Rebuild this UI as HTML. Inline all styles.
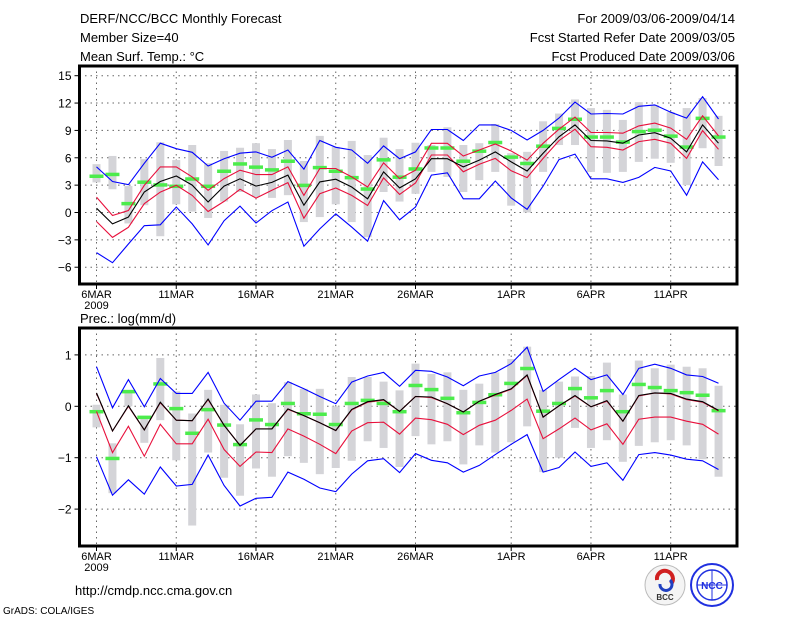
<!DOCTYPE html>
<html><head><meta charset="utf-8"><style>
html,body{margin:0;padding:0;background:#fff;}
svg{display:block;font-family:"Liberation Sans",sans-serif;}
</style></head><body>
<svg id="c" width="800" height="618" viewBox="0 0 800 618" xmlns="http://www.w3.org/2000/svg">
<g font-size="13" fill="#000">
<text x="80" y="23">DERF/NCC/BCC Monthly Forecast</text>
<text x="80" y="42">Member Size=40</text>
<text x="80" y="61">Mean Surf. Temp.: °C</text>
<text x="735" y="23" text-anchor="end">For 2009/03/06-2009/04/14</text>
<text x="735" y="42" text-anchor="end">Fcst Started Refer Date 2009/03/05</text>
<text x="735" y="61" text-anchor="end">Fcst Produced Date 2009/03/06</text>
<text x="80" y="323">Prec.: log(mm/d)</text>
<text x="75" y="595">http://cmdp.ncc.cma.gov.cn</text>
<text x="3" y="614" font-size="10">GrADS: COLA/IGES</text>
</g>
<g>
<circle cx="665" cy="585" r="20" fill="#f4f4f4" stroke="#bbb"/>
<path d="M657 580 a8 8 0 1 1 14 4" fill="none" stroke="#d02020" stroke-width="4"/>
<path d="M660 584 a6 6 0 1 0 10 -4" fill="none" stroke="#2040c0" stroke-width="3"/>
<text x="665" y="600" font-size="8" text-anchor="middle" font-weight="bold" fill="#333">BCC</text>
</g>
<g>
<circle cx="712" cy="585" r="21" fill="#fff" stroke="#2030e0" stroke-width="2"/>
<ellipse cx="712" cy="585" rx="15" ry="15" fill="none" stroke="#2030e0" stroke-width="1.5"/>
<line x1="697" y1="585" x2="727" y2="585" stroke="#2030e0"/>
<line x1="712" y1="570" x2="712" y2="600" stroke="#2030e0"/>
<text x="712" y="589" font-size="10" text-anchor="middle" font-weight="bold" fill="#2030e0">NCC</text>
</g>
</svg>
<script>
// ---- Temperature panel data ----
const tMaxBlue=[5.0,3.4,3.05,5.4,7.6,7.0,6.6,5.1,5.9,6.5,6.65,6.05,6.85,4.75,7.9,7.15,6.85,5.4,7.3,5.9,6.65,9.1,9.1,7.9,9.6,9.6,9.0,7.95,9.0,10.35,12.1,10.8,10.85,10.8,11.65,11.8,11.0,10.35,12.7,10.25];
const tUpRed=[1.69,-0.33,0.22,2.98,5.0,5.0,3.9,2.43,3.72,4.64,4.16,4.16,5.0,1.88,4.82,4.82,3.9,2.8,5.45,3.72,4.64,7.59,7.59,6.19,6.85,7.51,6.74,5.75,7.59,9.13,10.46,8.77,8.77,8.69,9.5,9.8,9.25,8.03,10.6,8.4];
const tMean=[0.47,-1.25,-0.5,2.25,3.4,4.0,3.0,1.15,2.9,3.7,2.9,3.3,4.1,0.8,3.35,3.65,2.8,1.5,4.45,2.7,3.7,5.9,5.9,5.0,5.75,6.65,5.55,4.55,6.5,8.3,9.6,7.9,7.85,7.6,8.5,8.75,8.15,6.65,9.6,7.6];
const tLowRed=[-0.99,-2.73,-1.62,0.96,2.24,2.98,1.88,0.11,1.22,2.54,1.58,2.43,3.28,-0.63,2.06,2.69,1.88,0.77,3.79,1.99,3.24,6.3,6.3,4.46,5.3,5.93,4.57,3.83,5.93,7.88,9.13,7.22,7.15,6.85,7.77,8.03,7.59,5.93,8.98,6.93];
const tMinBlue=[-4.4,-5.5,-3.45,-1.45,-1.35,0.6,-1.25,-3.55,-0.9,0.7,-1.15,0.2,1.15,-3.7,-1.8,-0.15,-1.6,-3.15,1.3,-0.8,0.6,4.1,4.35,1.5,1.5,3.45,1.6,0.35,2.9,5.8,6.4,3.7,3.7,3.3,3.85,4.95,4.55,1.9,5.55,3.6];
const tBoxHi=[5.3,6.2,2.9,5.85,7.7,5.75,7.4,5.4,6.75,7.1,7.6,6.95,7.95,5.65,8.4,7.2,7.85,6.3,8.2,6.95,7.65,7.4,9.35,7.4,7.6,9.7,6.5,6.65,10.0,10.85,12.4,11.45,11.25,10.15,12.1,11.8,11.0,11.45,12.55,10.6];
const tBoxLo=[3.3,2.55,-1.2,0.8,-2.6,0.9,0.1,-0.6,1.2,2.25,1.7,1.6,1.9,-1.05,-0.5,0.9,-1.05,-2.7,2.25,1.2,2.05,4.45,3.9,2.25,3.55,4.45,0.75,0.0,4.45,7.4,7.4,4.45,4.35,4.45,5.55,5.9,5.45,3.0,7.05,5.1];
const tObs=[4.0,4.2,1.0,3.35,3.05,2.9,3.7,2.9,4.55,5.35,5.0,4.7,5.65,3.0,4.95,4.55,3.85,2.6,5.8,3.9,4.8,7.1,7.1,5.65,6.75,7.7,6.1,5.4,7.3,9.25,10.25,8.3,8.3,7.75,8.9,9.05,8.4,7.2,10.35,8.3];
const tTicks=[15,12,9,6,3,0,-3,-6];
// ---- Precipitation panel data ----
const pMaxBlue=[0.77,-0.03,0.52,-0.01,0.54,0.25,0.25,0.66,0.06,-0.27,0.10,0.10,0.48,0.34,0.19,0.05,0.47,0.59,0.66,0.39,0.70,0.68,0.57,0.40,0.59,0.66,0.83,1.15,0.29,0.52,0.74,0.52,0.61,0.23,0.74,0.82,0.74,0.61,0.58,0.45];
const pUpRed=[0.25,-0.48,0.0,-0.46,0.07,-0.27,-0.28,0.13,-0.37,-0.76,-0.44,-0.44,-0.06,-0.18,-0.32,-0.47,-0.07,0.08,0.12,-0.10,0.19,0.17,0.05,-0.11,0.10,0.22,0.33,0.60,-0.21,0.01,0.20,-0.01,0.10,-0.29,0.20,0.26,0.24,0.13,0.08,-0.09];
const pMean=[0.26,-0.48,0.01,-0.46,0.08,-0.27,-0.28,0.14,-0.37,-0.76,-0.44,-0.44,-0.05,-0.18,-0.32,-0.47,-0.06,0.09,0.13,-0.10,0.19,0.18,0.05,-0.11,0.10,0.23,0.34,0.61,-0.21,0.01,0.21,-0.01,0.11,-0.29,0.21,0.26,0.25,0.14,0.09,-0.08];
const pLowRed=[-0.10,-0.90,-0.39,-0.97,-0.35,-0.73,-0.73,-0.25,-0.84,-1.17,-0.89,-0.90,-0.44,-0.58,-0.74,-0.92,-0.48,-0.32,-0.31,-0.54,-0.23,-0.26,-0.35,-0.55,-0.37,-0.27,-0.08,0.14,-0.63,-0.44,-0.23,-0.46,-0.34,-0.74,-0.25,-0.21,-0.21,-0.29,-0.35,-0.54];
const pMinBlue=[-0.98,-1.73,-1.43,-1.71,-1.18,-1.55,-1.52,-0.95,-1.54,-1.94,-1.79,-1.77,-1.28,-1.42,-1.59,-1.66,-1.32,-1.06,-1.02,-1.29,-0.92,-1.05,-1.10,-1.28,-1.15,-0.94,-0.74,-0.55,-1.28,-1.19,-0.89,-1.17,-1.10,-1.44,-0.94,-0.90,-0.95,-1.03,-1.06,-1.23];
const pBoxHi=[0.03,-0.72,0.32,-0.19,0.94,0.29,-0.14,0.32,0.03,-0.35,0.23,0.06,0.47,0.34,0.34,0.0,0.57,0.57,0.48,0.31,0.83,0.63,0.66,0.32,0.44,0.66,0.92,1.16,0.32,0.48,0.58,0.59,0.85,0.23,0.89,0.74,0.81,0.77,0.74,0.40];
const pBoxLo=[-0.41,-1.69,0.0,-0.71,-0.27,-1.05,-2.32,-0.90,-1.39,-1.74,-1.21,-1.37,-0.97,-1.10,-1.32,-1.20,-1.06,-0.68,-0.81,-1.18,-0.58,-0.74,-0.68,-1.13,-0.76,-0.90,-0.70,-0.39,-1.28,-1.00,-0.42,-0.81,-0.66,-1.08,-0.77,-0.70,-0.66,-0.76,-1.03,-1.37];
const pObs=[-0.10,-1.01,0.29,-0.21,0.44,-0.04,-0.52,-0.06,-0.36,-0.74,-0.26,-0.35,0.06,-0.14,-0.15,-0.35,0.06,0.12,0.06,-0.10,0.41,0.33,0.16,-0.12,0.08,0.23,0.45,0.74,-0.09,0.06,0.35,0.17,0.31,-0.10,0.43,0.37,0.31,0.27,0.22,-0.08];
const pTicks=[1,0,-1,-2];
const dateLabels=["6MAR","11MAR","16MAR","21MAR","26MAR","1APR","6APR","11APR"];
const dateIdx=[0,5,10,15,20,26,31,36];

const NS="http://www.w3.org/2000/svg";
const svg=document.getElementById('c');
function mk(tag,attrs,parent){const e=document.createElementNS(NS,tag);for(const k in attrs)e.setAttribute(k,attrs[k]);(parent||svg).appendChild(e);return e;}
const X0=79.5,X1=737;
function xOf(i){return 96.5+15.95*i;}

function panel(name,top,bottom,yOf,ticks,series,boxHi,boxLo,obs){
  const g=mk('g',{});
  
  
  // grid
  ticks.forEach(t=>{
    const y=yOf(t);
    const l=mk('line',{x1:X0,x2:X1,y1:y,y2:y,stroke:'#666','stroke-dasharray':'1.5 4'},g);
    
    
    mk('line',{x1:X0-5,x2:X0,y1:y,y2:y,stroke:'#000'},g);
    const tx=mk('text',{x:X0-8,y:y+4.5,'font-size':'12','text-anchor':'end'},g);
    tx.textContent=(t<0?'\u2212'+(-t):String(t));
    
    
  });
  dateIdx.forEach((d,k)=>{
    const x=xOf(d);
    const l=mk('line',{x1:x,x2:x,y1:top,y2:bottom,stroke:'#666','stroke-dasharray':'1.5 4'},g);
    
    
    mk('line',{x1:x,x2:x,y1:bottom,y2:bottom+5,stroke:'#000'},g);
    const tx=mk('text',{x:x,y:bottom+14,'font-size':'11','text-anchor':'middle'},g);
    tx.textContent=dateLabels[k];
    
    
  });
  const yr=mk('text',{x:xOf(0),y:bottom+25,'font-size':'11','text-anchor':'middle'},g);
  yr.textContent='2009';
  
  
  // boxes
  boxHi.forEach((h,i)=>{
    const y1=yOf(h),y2=yOf(boxLo[i]);
    const r=mk('rect',{x:xOf(i)-4,y:y1,width:8,height:Math.max(1,y2-y1),fill:'#d4d4d8'},g);
    
    
  });
  // obs
  obs.forEach((v,i)=>{
    const r=mk('rect',{x:xOf(i)-7,y:yOf(v)-1.5,width:14,height:3.5,fill:'#4cec4c'},g);
    
    
  });
  series.forEach(s=>{
    const pts=s.data.map((v,i)=>xOf(i).toFixed(1)+','+yOf(v).toFixed(1)).join(' ');
    const p=mk('polyline',{points:pts,fill:'none',stroke:s.color,'stroke-width':1.1},g);
    
    
  });
  const f=mk('rect',{x:X0,y:top,width:X1-X0,height:bottom-top,fill:'none',stroke:'#000','stroke-width':3},g);
  
  
}
const tY=v=>212.5-9.12*v;
const pY=v=>406.3-51.4*v;
panel('temp',66,284,tY,tTicks,[
 {name:'max-line',data:tMaxBlue,color:'#0000ff'},
 {name:'upper-line',data:tUpRed,color:'#e8103c'},
 {name:'lower-line',data:tLowRed,color:'#e8103c'},
 {name:'min-line',data:tMinBlue,color:'#0000ff'},
 {name:'mean-line',data:tMean,color:'#000'}],tBoxHi,tBoxLo,tObs);
panel('prec',328,546,pY,pTicks,[
 {name:'max-line',data:pMaxBlue,color:'#0000ff'},
 {name:'upper-line',data:pUpRed,color:'#e8103c'},
 {name:'lower-line',data:pLowRed,color:'#e8103c'},
 {name:'min-line',data:pMinBlue,color:'#0000ff'},
 {name:'mean-line',data:pMean,color:'#000'}],pBoxHi,pBoxLo,pObs);
</script>
</body></html>
